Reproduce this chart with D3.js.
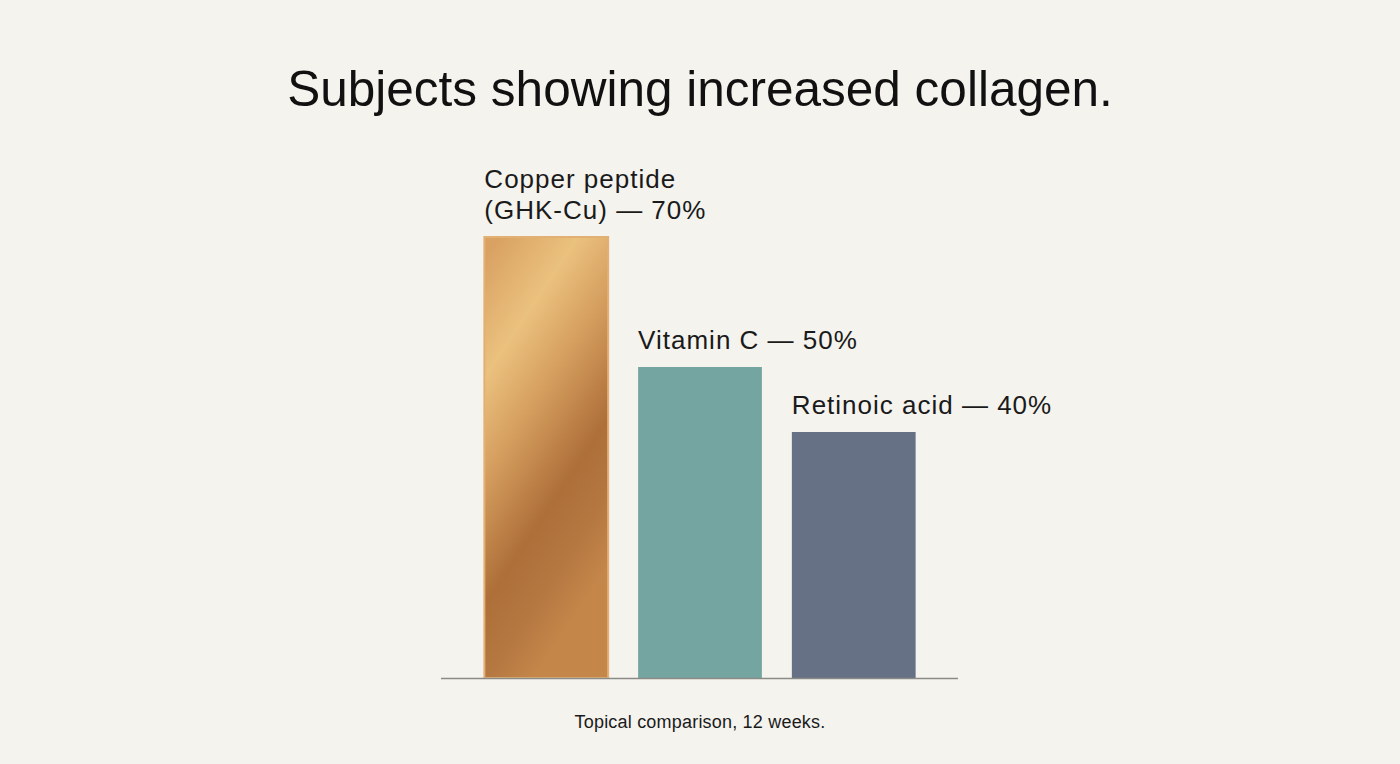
<!DOCTYPE html>
<html>
<head>
<meta charset="utf-8">
<script src="https://cdn.jsdelivr.net/npm/d3@7"></script>
<style>
  body { margin: 0; background: #f4f3ee; }
  svg { display: block; }
</style>
</head>
<body>
<div id="chart"></div>
<script>
var names = ["Copper peptide\n(GHK-Cu) — 70%", "Vitamin C — 50%", "Retinoic acid — 40%"];
var values = [70, 50, 40];
var fills = ["url(#copper)", "#75a5a0", "#667186"];

var width = 1400,
    height = 764,
    base = 678;

var font = "Liberation Sans, Arial, sans-serif";

var svg = d3.select("#chart")
    .append("svg")
    .attr("width", width)
    .attr("height", height);

svg.append("rect")
    .attr("width", width)
    .attr("height", height)
    .attr("fill", "#f4f3ee");

/* copper gradient */
var defs = svg.append("defs");
var grad = defs.append("linearGradient")
    .attr("id", "copper")
    .attr("x1", "0").attr("y1", "0.05")
    .attr("x2", "0.4").attr("y2", "1");
grad.append("stop").attr("offset", "0%").attr("stop-color", "#d9a263");
grad.append("stop").attr("offset", "24%").attr("stop-color", "#ebc17e");
grad.append("stop").attr("offset", "45%").attr("stop-color", "#d49d5e");
grad.append("stop").attr("offset", "70%").attr("stop-color", "#ae6f39");
grad.append("stop").attr("offset", "86%").attr("stop-color", "#b57841");
grad.append("stop").attr("offset", "100%").attr("stop-color", "#c48649");

var x = d3.scaleBand()
    .domain(names)
    .range([469, 931])
    .paddingInner(0.195)
    .paddingOuter(0.1);

// value axis (zero sits a little under the baseline)
var y = d3.scaleLinear()
    .domain([0, 70])
    .range([692, 237]);

svg.append("text")
    .attr("x", 700)
    .attr("y", 106)
    .attr("text-anchor", "middle")
    .attr("font-family", font)
    .attr("font-size", 49.5)
    .attr("fill", "#111")
    .text("Subjects showing increased collagen.");

svg.append("g")
    .selectAll("rect")
    .data(values)
    .enter().append("rect")
    .attr("x", function(d, i) { return x(names[i]); })
    .attr("y", function(d) { return y(d); })
    .attr("width", x.bandwidth())
    .attr("height", function(d) { return base - y(d); })
    .attr("fill", function(d, i) { return fills[i]; })
    .attr("stroke", function(d, i) { return i == 0 ? "#e2b073" : "none"; })
    .attr("stroke-width", 2);

// labels above each bar
svg.append("g")
    .selectAll("text")
    .data(values)
    .enter().append("text")
    .attr("font-family", font)
    .attr("font-size", 26)
    .attr("letter-spacing", 1)
    .attr("fill", "#1a1a1a")
    .attr("x", function(d, i) { return x(names[i]); })
    .attr("y", function(d) { return y(d) - 18; })
    .each(function(d, i) {
        var lines = names[i].split("\n");
        var t = d3.select(this);
        lines.forEach(function(l, j) {
            t.append("tspan")
                .attr("x", x(names[i]))
                .attr("dy", j == 0 ? -(lines.length - 1) * 31 : 31)
                .text(l);
        });
    });

svg.append("line")
    .attr("x1", 441).attr("x2", 958)
    .attr("y1", base + 0.5).attr("y2", base + 0.5)
    .attr("stroke", "#8a8a86")
    .attr("stroke-width", 1.5);

svg.append("text")
    .attr("x", 700)
    .attr("y", 728)
    .attr("text-anchor", "middle")
    .attr("font-family", font)
    .attr("font-size", 18)
    .attr("letter-spacing", 0.2)
    .attr("fill", "#1a1a1a")
    .text("Topical comparison, 12 weeks.");
</script>
</body>
</html>
